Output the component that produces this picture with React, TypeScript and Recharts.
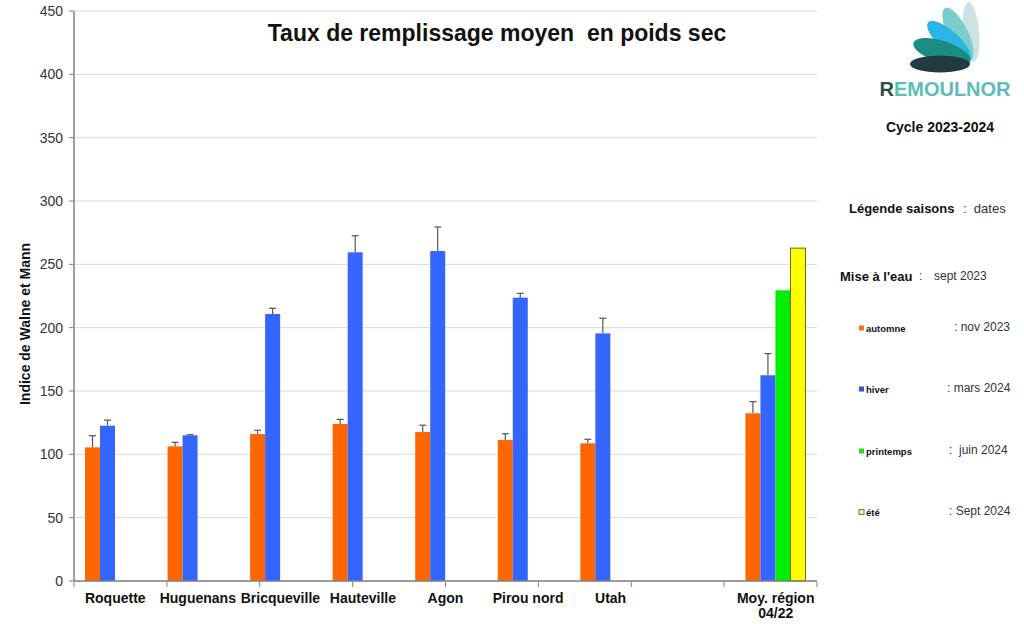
import React from 'react';
import { BarChart, Bar, XAxis, YAxis, CartesianGrid } from 'recharts';

const categories = ['Roquette', 'Huguenans', 'Bricqueville', 'Hauteville', 'Agon', 'Pirou nord', 'Utah', '', 'Moy. région\n04/22'];
const automne = [105.5, 106.3, 116, 124, 117.6, 111.3, 108.7, null, 132.4];
const automneErr = [9.2, 3.2, 3, 3.6, 5.4, 5, 3.2, null, 9.2];
const hiver = [122.6, 115, 210.8, 259.5, 260.5, 223.7, 195.5, null, 162.4];
const hiverErr = [4.4, 0.5, 4.5, 13.1, 19, 3.4, 11.9, null, 17.1];
const printemps = [null, null, null, null, null, null, null, null, 229.5];
const ete = [null, null, null, null, null, null, null, null, 262.8];
const yTicks = [0, 50, 100, 150, 200, 250, 300, 350, 400, 450];
const boundaryTicks = [0, 1, 2, 3, 4, 5, 6, 7, 8, 9];

const data = categories.map((name, i) => ({
  name,
  automne: automne[i],
  automneErr: automneErr[i],
  hiver: hiver[i],
  hiverErr: hiverErr[i],
  printemps: printemps[i],
  ete: ete[i],
}));

const FONT = '"Liberation Sans", Arial, sans-serif';

const makeShape = (key: string, errKey: string | null, stroke?: string) => (props: any) => {
  const { x, y, width, height, fill, payload } = props;
  const v = payload ? payload[key] : null;
  if (v == null || !height) return <g />;
  const err = errKey && payload[errKey] ? payload[errKey] : 0;
  const errPx = (err * height) / v;
  const cx = x + width / 2;
  return (
    <g>
      <rect x={x} y={y} width={width} height={height} fill={fill} stroke={stroke || 'none'} strokeWidth={stroke ? 1 : 0} />
      {errPx > 0 && (
        <g stroke="#555" strokeWidth={1.2}>
          <line x1={cx} y1={y} x2={cx} y2={y - errPx} />
          <line x1={cx - 3.5} y1={y - errPx} x2={cx + 3.5} y2={y - errPx} />
        </g>
      )}
    </g>
  );
};

const CatTick = (props: any) => {
  const { x, y, payload } = props;
  const lines = String(payload.value).split('\n');
  return (
    <g>
      {lines.map((l, i) => (
        <text key={i} x={x} y={y + 14 + i * 15} textAnchor="middle" fontFamily={FONT} fontWeight="bold" fontSize={14} fill="#111">
          {l}
        </text>
      ))}
    </g>
  );
};

const EmptyTick = () => <g />;

const legendItems = [
  { label: 'automne', date: ': nov 2023', color: '#F07020', border: 'none', y: 328, dx: 954 },
  { label: 'hiver', date: ': mars 2024', color: '#3355CC', border: 'none', y: 389, dx: 947 },
  { label: 'printemps', date: ':  juin 2024', color: '#22DD22', border: 'none', y: 451, dx: 949 },
  { label: 'été', date: ': Sept 2024', color: '#EEEEBB', border: '#7A7A30', y: 512, dx: 949 },
];

export default function App() {
  return (
    <div style={{ position: 'absolute', left: 0, top: 0, width: 1024, height: 624, background: '#fff', overflow: 'hidden' }}>
      <BarChart
        width={830}
        height={624}
        data={data}
        margin={{ top: 11, right: 13, left: 0, bottom: 41 }}
        barGap={0}
        barSize={15}
        style={{ overflow: 'visible' }}
      >
        <CartesianGrid vertical={false} stroke="#d9d9d9" xAxisId="cat" />
        <XAxis
          xAxisId="grid"
          type="number"
          domain={[0, 9]}
          ticks={boundaryTicks}
          interval={0}
          allowDataOverflow
          height={1}
          tick={<EmptyTick />}
          axisLine={false}
          tickLine={{ stroke: '#808080' }}
          tickSize={5}
        />
        <XAxis
          xAxisId="cat"
          dataKey="name"
          height={1}
          interval={0}
          tickLine={false}
          axisLine={{ stroke: '#808080', strokeWidth: 1.5 }}
          tick={<CatTick />}
        />
        <YAxis
          width={74}
          domain={[0, 450]}
          ticks={yTicks}
          interval={0}
          tickSize={5}
          tickMargin={6}
          tickLine={{ stroke: '#808080' }}
          axisLine={{ stroke: '#808080', strokeWidth: 1.5 }}
          tick={{ fontFamily: FONT, fontSize: 14, fill: '#333' }}
        />
        <Bar xAxisId="cat" dataKey="automne" fill="#FF6600" isAnimationActive={false} shape={makeShape('automne', 'automneErr')} />
        <Bar xAxisId="cat" dataKey="hiver" fill="#3366FF" isAnimationActive={false} shape={makeShape('hiver', 'hiverErr')} />
        <Bar xAxisId="cat" dataKey="printemps" fill="#00EE00" isAnimationActive={false} shape={makeShape('printemps', null)} />
        <Bar xAxisId="cat" dataKey="ete" fill="#FFFF00" isAnimationActive={false} shape={makeShape('ete', null, '#6B6330')} />
      </BarChart>

      <svg width={1024} height={624} style={{ position: 'absolute', left: 0, top: 0, pointerEvents: 'none' }}>
        <text x={497} y={41} textAnchor="middle" fontFamily={FONT} fontWeight="bold" fontSize={23} fill="#111" style={{ whiteSpace: 'pre' }}>
          {'Taux de remplissage moyen  en poids sec'}
        </text>
        <text x={30} y={324} transform="rotate(-90 30 324)" textAnchor="middle" fontFamily={FONT} fontWeight="bold" fontSize={14} fill="#111">
          Indice de Walne et Mann
        </text>

        {/* logo */}
        <g>
          <ellipse cx={971} cy={32} rx={30} ry={8} fill="#cde2e2" transform="rotate(85 971 32)" />
          <ellipse cx={958} cy={34} rx={29} ry={10} fill="#7ccccc" transform="rotate(64 958 34)" />
          <ellipse cx={949} cy={41} rx={28} ry={10} fill="#29b6e6" transform="rotate(42 949 41)" />
          <ellipse cx={942} cy={52} rx={30} ry={11} fill="#1a8c80" transform="rotate(18 942 52)" />
          <ellipse cx={940} cy={64} rx={30} ry={8.5} fill="#223a40" />
        </g>
        <text x={945} y={96} textAnchor="middle" fontFamily={FONT} fontWeight="bold" fontSize={20} fill="#5cbcbc">
          <tspan fill="#2e4d4d">R</tspan>EMOULNOR
        </text>
        <text x={940} y={132} textAnchor="middle" fontFamily={FONT} fontWeight="bold" fontSize={14} fill="#111">
          Cycle 2023-2024
        </text>

        <text x={849} y={213} fontFamily={FONT} fontWeight="bold" fontSize={13} fill="#111">Légende saisons</text>
        <text x={963} y={213} fontFamily={FONT} fontSize={13} fill="#333" style={{ whiteSpace: 'pre' }}>{':  dates'}</text>

        <text x={840} y={281} fontFamily={FONT} fontWeight="bold" fontSize={13} fill="#111">Mise à l'eau</text>
        <text x={919} y={280} fontFamily={FONT} fontSize={12} fill="#333">:</text>
        <text x={934} y={280} fontFamily={FONT} fontSize={12} fill="#333">sept 2023</text>

        {legendItems.map((it) => (
          <g key={it.label}>
            <rect x={859} y={it.y - 2.5} width={5} height={5} fill={it.color} stroke={it.border} strokeWidth={it.border === 'none' ? 0 : 1} />
            <text x={866} y={it.y + 3.5} fontFamily={FONT} fontWeight="bold" fontSize={9.5} fill="#111">{it.label}</text>
            <text x={it.dx} y={it.y + 3} fontFamily={FONT} fontSize={12} fill="#333" style={{ whiteSpace: 'pre' }}>{it.date}</text>
          </g>
        ))}
      </svg>
    </div>
  );
}
